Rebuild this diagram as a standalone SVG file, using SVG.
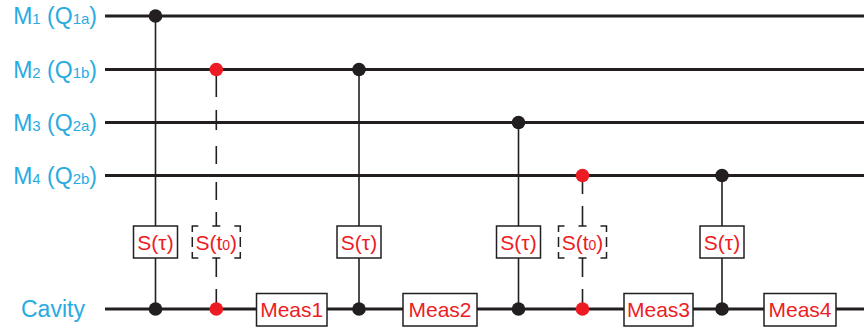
<svg xmlns="http://www.w3.org/2000/svg" width="864" height="330" viewBox="0 0 864 330">
<style>
.wire{stroke:#231f20;stroke-width:3;fill:none}
.lbl{font-family:"Liberation Sans",Arial,sans-serif;font-size:23px;fill:#29abe2}
.sub{font-size:15px}
.gt{font-family:"Liberation Sans",Arial,sans-serif;font-size:21px;fill:#ed1c24;text-anchor:middle}
.gsub{font-size:14px}
.box{fill:#fff;stroke:#231f20;stroke-width:1.5}
.dbox{fill:#fff;stroke:#231f20;stroke-width:1.5;stroke-dasharray:6 14 8 14 12 5 10 5 12 14 8 14 12 5 10 5 6}
.vl{stroke:#231f20;stroke-width:1.6;fill:none}
.dl{stroke:#231f20;stroke-width:1.6;fill:none}
.bd{fill:#231f20}
.rd{fill:#ed1c24}
</style>
<g id="wire-m1">
<line class="wire" x1="105" y1="16" x2="864" y2="16"/>
<text class="lbl" x="97" y="24" text-anchor="end">M<tspan class="sub">1</tspan> (Q<tspan class="sub">1a</tspan>)</text>
</g>
<g id="wire-m2">
<line class="wire" x1="105" y1="69.5" x2="864" y2="69.5"/>
<text class="lbl" x="97" y="77.5" text-anchor="end">M<tspan class="sub">2</tspan> (Q<tspan class="sub">1b</tspan>)</text>
</g>
<g id="wire-m3">
<line class="wire" x1="105" y1="122.5" x2="864" y2="122.5"/>
<text class="lbl" x="97" y="130.5" text-anchor="end">M<tspan class="sub">3</tspan> (Q<tspan class="sub">2a</tspan>)</text>
</g>
<g id="wire-m4">
<line class="wire" x1="105" y1="175.5" x2="864" y2="175.5"/>
<text class="lbl" x="97" y="183.5" text-anchor="end">M<tspan class="sub">4</tspan> (Q<tspan class="sub">2b</tspan>)</text>
</g>
<g id="wire-cavity">
<line class="wire" x1="105" y1="309" x2="864" y2="309"/>
<text class="lbl" x="21" y="317">Cavity</text>
</g>
<g id="connectors">
<line class="vl" x1="155.5" y1="16" x2="155.5" y2="309"/>
<path class="dl" d="M216.3,70V97M216.3,110V130M216.3,146V164M216.3,182V200M216.3,212V226M216.3,258V277M216.3,289V309"/>
<line class="vl" x1="359" y1="69.5" x2="359" y2="309"/>
<line class="vl" x1="518.5" y1="122.5" x2="518.5" y2="309"/>
<path class="dl" d="M582.5,175V194M582.5,206V226M582.5,258V277M582.5,289V309"/>
<line class="vl" x1="722" y1="175.5" x2="722" y2="309"/>
<circle class="bd" cx="155.5" cy="16" r="6.8"/>
<circle class="bd" cx="155.5" cy="309" r="6.8"/>
<circle class="rd" cx="216.3" cy="69.5" r="6.8"/>
<circle class="rd" cx="216.3" cy="309" r="6.8"/>
<circle class="bd" cx="359" cy="69.5" r="6.8"/>
<circle class="bd" cx="359" cy="309" r="6.8"/>
<circle class="bd" cx="518.5" cy="122.5" r="6.8"/>
<circle class="bd" cx="518.5" cy="309" r="6.8"/>
<circle class="rd" cx="582.5" cy="175.5" r="6.8"/>
<circle class="rd" cx="582.5" cy="309" r="6.8"/>
<circle class="bd" cx="722" cy="175.5" r="6.8"/>
<circle class="bd" cx="722" cy="309" r="6.8"/>
</g>
<g id="gate-s1">
<rect class="box" x="133.5" y="226" width="44" height="32"/>
<text class="gt" x="155.5" y="249.5">S(τ)</text>
</g>
<g id="gate-s0a">
<rect class="dbox" x="192.3" y="226" width="48" height="32"/>
<text class="gt" x="216.3" y="249.5">S(t<tspan class="gsub">0</tspan>)</text>
</g>
<g id="meas1">
<rect class="box" x="256.5" y="293.5" width="70.5" height="32.5"/>
<text class="gt" x="291.7" y="317">Meas1</text>
</g>
<g id="gate-s2">
<rect class="box" x="337" y="226" width="44" height="32"/>
<text class="gt" x="359" y="249.5">S(τ)</text>
</g>
<g id="meas2">
<rect class="box" x="403" y="293.5" width="74" height="32.5"/>
<text class="gt" x="440" y="317">Meas2</text>
</g>
<g id="gate-s3">
<rect class="box" x="496.5" y="226" width="44" height="32"/>
<text class="gt" x="518.5" y="249.5">S(τ)</text>
</g>
<g id="gate-s0b">
<rect class="dbox" x="558.5" y="226" width="48" height="32"/>
<text class="gt" x="582.5" y="249.5">S(t<tspan class="gsub">0</tspan>)</text>
</g>
<g id="meas3">
<rect class="box" x="624" y="293.5" width="69" height="32.5"/>
<text class="gt" x="658.5" y="317">Meas3</text>
</g>
<g id="gate-s4">
<rect class="box" x="700" y="226" width="44" height="32"/>
<text class="gt" x="722" y="249.5">S(τ)</text>
</g>
<g id="meas4">
<rect class="box" x="764" y="293.5" width="72" height="32.5"/>
<text class="gt" x="800" y="317">Meas4</text>
</g>
</svg>
